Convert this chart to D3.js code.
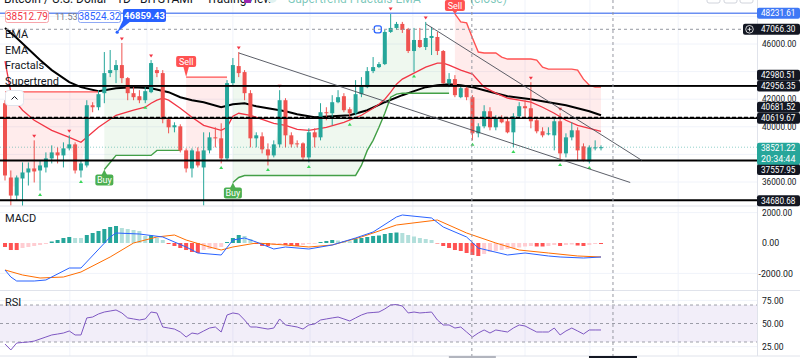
<!DOCTYPE html>
<html>
<head>
<meta charset="utf-8">
<script src="https://cdnjs.cloudflare.com/ajax/libs/d3/7.8.5/d3.min.js"></script>
<style>
body { margin: 0; background: #fff; }
svg { display: block; font-family: Roboto, "Liberation Sans", sans-serif; }
</style>
</head>
<body>
<svg id="chart" width="800" height="358"></svg>
<script>
/*********************
	Data
**********************/
// daily candles [open, high, low, close]
var candles = [
	[41709,41927,36109,36473],[36327,36836,34291,35018],[35018,36473,34655,36327],[36255,37418,34150,36691],[36691,37418,35745,36982],
	[36982,39018,35964,36764],[36836,37564,35382,37200],[37055,38145,36691,37709],[37709,38655,37345,38145],[38145,38509,37345,37927],
	[37927,38873,37055,38436],[38436,39382,38291,38727],[38727,38873,36618,36836],[36836,37564,36327,37345],[37200,41927,37055,41564],
	[41564,41782,41055,41418],[41418,42655,41200,42364],[42436,45418,41709,43891],[43891,45564,43600,44109],[44109,44836,43164,44473],
	[44473,46073,43164,43527],[43527,43600,41927,42436],[42436,42873,41927,42145],[42218,42655,41709,41927],[41927,42873,41709,42582],
	[42509,44836,42436,44618],[44109,44327,43600,43891],[43891,44109,40255,40545],[40545,40691,39527,39964],[39964,40327,39600,40109],
	[40036,40182,38145,38291],[38291,38436,36691,36982],[36982,38436,36327,38291],[38218,38509,37055,37200],[37055,39600,34291,38291],
	[38291,39600,38073,39236],[39236,39964,38509,39164],[39164,40255,37345,37709],[37709,43382,37564,43164],[43164,44982,43018,44473],
	[44400,45418,43600,43891],[43964,44109,41927,42436],[42436,42655,38509,39164],[39164,39600,38509,39382],[39309,39600,38073,38364],
	[38364,38800,37200,37927],[37927,39018,37782,38727],[38727,42655,38509,41927],[41927,42073,38509,39382],[39382,39600,38509,38727],
	[38800,39018,38509,38727],[38800,38873,37564,37782],[37782,39891,37418,39600],[39600,39891,38509,39236],[39236,41709,39018,41055],
	[41055,41418,40473,40982],[40982,42291,40109,41782],[41782,42655,41709,42145],[42218,42436,41055,41200],[41273,41418,40473,40982],
	[40982,43382,40836,42364],[42364,43600,42145,42945],[42873,44327,42800,44036],[44036,45055,43891,44327],[44327,44691,44255,44545],
	[44545,47018,44473,46873],[46873,48255,46800,47164],[47164,47600,47018,47455],[47455,47600,46800,47018],[47091,47164,45345,45491],
	[45491,47164,43964,46291],[46291,47164,45709,45782],[45782,47600,45564,46436],[46436,47236,45200,46582],[46509,46873,45200,45491],
	[45491,45564,43100,43164],[43164,43891,42873,43455],[43455,43745,42145,42291],[42145,43018,42073,42800],[42800,43018,41927,42145],
	[42145,42291,39018,39527],[39527,40255,39236,40036],[40036,41564,39891,41127],[41127,41418,39745,39964],[39964,40836,39745,40618],
	[40618,40836,40255,40327],[40400,40618,39527,39600],[39600,40982,38509,40764],[40764,41782,40691,41491],[41491,41927,40691,41345],
	[41345,43236,39891,40400],[40473,40691,39527,39673],[39673,39964,39236,39382],[39455,39964,39382,39527],[39382,40618,38291,40400],
	[40400,40982,37564,38073],[38073,39527,37782,39236],[39236,40327,39018,39745],[39745,39964,37564,38291],[38582,38800,37491,37564],
	[37491,38655,37345,38509],[38436,39018,38291,38509],[38509,38655,38291,38521]
];

// EMA lines, read as [bar, price]
var emaFast = [[0,44764],[1,42509],[2,41709],[3,41200],[5,40473],[8,39745],[11,39236],[13,38873],[14,39236],[16,39964],
	[19,40836],[22,41200],[24,41418],[25,41709],[26,41927],[27,42073],[28,41927],[30,41345],[32,40691],[34,40109],
	[37,39745],[38,39964],[39,40764],[40,40982],[42,40836],[44,40545],[46,40255],[48,40109],[50,39818],[52,39745],
	[55,39964],[58,40327],[61,40836],[63,41345],[64,41636],[65,42000],[66,42509],[67,43091],[68,43455],[70,43891],
	[72,44327],[74,44618],[75,44618],[76,44473],[78,44109],[80,43818],[82,42873],[84,42436],[86,42073],[88,41927],
	[90,41782],[92,41418],[94,40982],[96,40473],[98,40109],[100,39891],[102,39673]];
var emaSlow = [[0,47164],[2,46436],[4,45636],[6,44836],[8,44109],[11,43236],[13,42873],[16,42582],[19,42800],[22,42873],
	[25,42800],[28,42509],[30,42145],[32,41927],[34,41782],[37,41418],[39,41636],[41,41709],[43,41491],[45,41345],
	[48,41127],[50,40909],[53,40691],[56,40764],[59,40836],[62,41200],[65,41782],[68,42291],[70,42582],[72,42873],
	[74,43018],[76,43091],[78,43018],[80,42873],[82,42655],[84,42436],[86,42218],[88,42109],[90,42000],[92,41855],
	[94,41709],[96,41564],[98,41345],[100,41127],[102,40836]];

// supertrend value per bar, trend flips at these bars (starts bearish)
var supertrend = [
	42530,42530,42530,42530,42530,42530,42530,42530,42530,42530,42530,42530,42530,42530,42530,42530,42530,
	36909,37418,37927,37927,37927,37927,37927,37927,37927,38291,38291,38291,38291,38291,
	43600,43600,43600,43600,43600,43600,43600,43600,
	35964,36327,36473,36473,36473,36473,36473,36473,36473,36473,36473,36473,36473,36473,36473,36473,36473,36473,36473,36473,36473,36473,
	37200,38291,39018,39964,40982,42145,42364,42436,42436,42436,42436,42436,42436,42436,42436,42436,
	48182,47600,47527,46436,45418,45345,45345,45345,45055,44909,44909,44909,44909,44909,44836,44327,
	44182,44182,44182,44182,44182,44109,43455,43018,42873,42873
];
var trendFlips = [17, 31, 39, 77];

var fractalUp = [5, 11, 20, 25, 40, 47, 66, 72, 90, 95];
var fractalDown = [6, 13, 24, 37, 45, 52, 59, 70, 80, 87, 95, 100];

// trend lines [bar1, price1, bar2, price2]
var trendLines = [[40.05, 45345, 107, 35964], [72.05, 47455, 109, 37564]];

var levelPrices = [48231.61, 42980.51, 42956.35, 40681.52, 40619.67, 37557.95, 34680.68];
var priceTicks = [46000, 42000, 40000, 36000];
var gridPrices = [36000, 38000, 40000, 42000, 44000, 46000, 48000];

var macdLine = [[0,-1776],[1,-2237],[2,-2500],[5,-2500],[7,-2434],[11,-1645],[13,-1645],[18,395],[19,658],[23,592],
	[27,395],[31,-263],[33,-658],[37,-790],[39,197],[41,329],[43,66],[46,-395],[48,-263],[52,-395],
	[56,-132],[60,329],[63,724],[67,1711],[68,1842],[73,1645],[75,1053],[79,395],[81,-329],[86,-790],
	[89,-658],[93,-855],[95,-921],[99,-987],[102,-921]];
var signalLine = [[0,-1776],[3,-2105],[6,-2303],[10,-2237],[13,-1908],[18,-921],[22,0],[26,395],[29,526],[31,197],
	[35,-263],[37,-461],[39,-263],[43,0],[48,-132],[52,-263],[56,-132],[61,395],[67,1184],[74,1513],
	[79,658],[84,0],[88,-461],[93,-658],[98,-855],[102,-921]];
var macdHist = [-263,-461,-461,-329,-263,-197,-132,-66,99,197,329,395,329,329,526,658,790,921,1053,1118,
	987,921,855,790,461,500,329,197,-66,-197,-329,-461,-592,-658,-461,-395,-329,-263,66,329,
	526,461,263,-66,-197,-197,-132,-66,-132,-197,-197,-132,-66,-50,66,132,197,165,132,120,
	263,329,395,461,493,592,658,690,658,526,428,329,263,197,-33,-197,-329,-461,-526,-658,
	-790,-855,-724,-592,-526,-461,-395,-329,-296,-230,-197,-230,-230,-197,-132,-197,-132,-99,-165,-197,
	-132,-66,-66];
var macdTicks = [2000, 0, -2000];

var rsiValues = [27.8,21.4,28.9,29.5,30,31,33.2,35.4,37.6,38.6,39.7,41.9,37.6,37.6,56,57,60.3,62.4,63.5,64.6,
	61.4,56,54.9,53.8,54.9,62.4,61.4,46.2,45.1,44,40.8,35.4,39.7,38.6,41.9,45.1,46.2,40.8,59.2,61.4,
	60.3,53.8,46.2,46.2,45.1,44,45.1,54.9,48.4,47.3,46.2,44,48.4,49.5,53.8,54.9,56,57,54.9,52.7,
	56,59.2,61.4,61.9,62.4,65.7,70,70.5,68.9,61.4,62.4,61.4,61.9,62.4,53.8,48.4,48.4,45.1,46.2,40.8,
	35.4,39.7,43,39.7,43,41.9,40.8,45.1,48.4,47.3,44,40.8,40.8,40.8,45.1,37.6,41.9,45.1,41.9,38.6,
	43,43,43];
var rsiTicks = [75, 50, 25];
var rsiBands = [70, 50, 30];

// month grid and markers, in bar units
var timeGrid = [11.1, 24.3, 39, 52.2, 69.8, 89, 100.1, 115.2];
var markBar = 79.9;
var crossBar = 104.05;
var crossPrice = 47066.30;
var lastPrice = 38521.22;
var countdown = "20:34:44";
var legendValues = ["38512.79", "11.53", "38524.32"];
var calloutPrice = 46859.43;
var calloutBar = 19.2;
var alertBar = 63.8;


/*********************
	Scales
**********************/
var PANE_RIGHT = 757;
var x = d3.scaleLinear().domain([0, 102]).range([5, 601]);
var yPrice = d3.scaleLinear().domain([36000, 46000]).range([182, 44]);
var yMacd = d3.scaleLinear().domain([-2000, 2000]).range([273.4, 212.6]);
var yRsi = d3.scaleLinear().domain([30, 70]).range([342, 305]);

var svg = d3.select("#chart");
var GREEN = "#26a69a", RED = "#ef5350";
var fmt = d3.format(".2f");


/*********************
	Helpers
**********************/
function trendDir(i){
	var d = -1;
	trendFlips.forEach(function(f){ if (i >= f) d = -d; });
	return d;
}

// axis text squeezed to the narrow price scale
function axisText(g, x0, yc, str, color){
	return g.append("text").attr("x", x0).attr("y", yc).attr("dy", "0.35em")
		.attr("font-size", 9).attr("fill", color || "#131722")
		.attr("textLength", str.length * 4.3).attr("lengthAdjust", "spacingAndGlyphs")
		.text(str);
}

function addBox(g, yc, fill, label){
	g.append("rect").attr("x", PANE_RIGHT).attr("y", yc - 5.5).attr("width", 43).attr("height", 11)
		.attr("rx", 2).attr("fill", fill);
	axisText(g, 761, yc, label, "#fff");
}


/*********************
	Drawing
**********************/
function drawGrid(){
	var g = svg.append("g");
	g.append("rect").attr("width", 800).attr("height", 358).attr("fill", "#fff");

	g.selectAll(".vgrid").data(timeGrid).enter().append("line")
		.attr("x1", function(d){ return x(d); }).attr("x2", function(d){ return x(d); })
		.attr("y1", 0).attr("y2", 356).attr("stroke", "#f0f3fa").attr("stroke-width", 1);

	g.selectAll(".hgrid").data(gridPrices).enter().append("line")
		.attr("x1", 0).attr("x2", PANE_RIGHT)
		.attr("y1", function(d){ return yPrice(d); }).attr("y2", function(d){ return yPrice(d); })
		.attr("stroke", "#f0f3fa");

	[2000, -2000].forEach(function(v){
		g.append("line").attr("x1", 0).attr("x2", PANE_RIGHT).attr("y1", yMacd(v)).attr("y2", yMacd(v)).attr("stroke", "#f0f3fa");
	});
	[75, 25].forEach(function(v){
		g.append("line").attr("x1", 0).attr("x2", PANE_RIGHT).attr("y1", yRsi(v)).attr("y2", yRsi(v)).attr("stroke", "#f0f3fa");
	});

	// pane separators
	[206, 290.5, 356].forEach(function(yy){
		g.append("line").attr("x1", 0).attr("x2", 800).attr("y1", yy).attr("y2", yy).attr("stroke", "#e0e3eb");
	});
	g.append("line").attr("x1", PANE_RIGHT + 0.5).attr("x2", PANE_RIGHT + 0.5).attr("y1", 0).attr("y2", 356).attr("stroke", "#e0e3eb");
}

function drawMainPane(){
	var defs = svg.append("defs");
	defs.append("clipPath").attr("id", "clip-main").append("rect")
		.attr("x", 0).attr("y", 0).attr("width", PANE_RIGHT).attr("height", 205.5);
	var g = svg.append("g").attr("clip-path", "url(#clip-main)");

	// supertrend segments
	var segs = [], cur = null;
	for (var i = 0; i < supertrend.length; i++){
		var d = trendDir(i);
		if (!cur || cur.dir != d){ cur = {dir: d, idx: []}; segs.push(cur); }
		cur.idx.push(i);
	}
	var area = d3.area()
		.x(function(i){ return x(i); })
		.y0(function(i){ return yPrice((candles[i][0] + candles[i][3]) / 2); })
		.y1(function(i){ return yPrice(supertrend[i]); });
	var stLine = d3.line().x(function(i){ return x(i); }).y(function(i){ return yPrice(supertrend[i]); });

	segs.forEach(function(s){
		g.append("path").attr("d", area(s.idx))
			.attr("fill", s.dir > 0 ? "rgba(76,175,80,0.09)" : "rgba(255,82,82,0.11)");
	});

	// EMAs
	var emaPath = d3.line().x(function(d){ return x(d[0]); }).y(function(d){ return yPrice(d[1]); });
	g.append("path").attr("d", emaPath(emaSlow)).attr("fill", "none").attr("stroke", "#000").attr("stroke-width", 2);
	g.append("path").attr("d", emaPath(emaFast)).attr("fill", "none").attr("stroke", "#f23645").attr("stroke-width", 1.3);

	segs.forEach(function(s){
		g.append("path").attr("d", stLine(s.idx)).attr("fill", "none")
			.attr("stroke", s.dir > 0 ? "#43a047" : "#ff5252").attr("stroke-width", 1.4);
	});

	// candles
	g.selectAll(".wick").data(candles).enter().append("line")
		.attr("x1", function(d, i){ return x(i); }).attr("x2", function(d, i){ return x(i); })
		.attr("y1", function(d){ return yPrice(d[1]); }).attr("y2", function(d){ return yPrice(d[2]); })
		.attr("stroke", function(d){ return d[3] >= d[0] ? GREEN : RED; }).attr("stroke-width", 1);
	g.selectAll(".body").data(candles).enter().append("rect")
		.attr("x", function(d, i){ return x(i) - 2; })
		.attr("y", function(d){ return yPrice(Math.max(d[0], d[3])); })
		.attr("width", 4)
		.attr("height", function(d){ return Math.max(1, Math.abs(yPrice(d[0]) - yPrice(d[3]))); })
		.attr("fill", function(d){ return d[3] >= d[0] ? GREEN : RED; });

	// fractals
	g.selectAll(".fup").data(fractalUp).enter().append("path")
		.attr("d", function(i){ var cx = x(i), cy = yPrice(candles[i][1]) - 4; return "M" + (cx - 2) + "," + (cy - 1.5) + "L" + (cx + 2) + "," + (cy - 1.5) + "L" + cx + "," + (cy + 1.5) + "Z"; })
		.attr("fill", "#f23645");
	g.selectAll(".fdn").data(fractalDown).enter().append("path")
		.attr("d", function(i){ var cx = x(i), cy = yPrice(candles[i][2]) + 4; return "M" + (cx - 2) + "," + (cy + 1.5) + "L" + (cx + 2) + "," + (cy + 1.5) + "L" + cx + "," + (cy - 1.5) + "Z"; })
		.attr("fill", "#3ad65a");

	// horizontal levels
	var levelColors = ["#6b8ff2", "#000", "#000", "#000", "#000", "#000", "#000"];
	var levelDash = [null, null, null, "4,2", null, null, null];
	var levelWidth = [1.5, 1.5, 1.5, 1.5, 1.5, 2, 2];
	levelPrices.forEach(function(p, k){
		g.append("line").attr("x1", 0).attr("x2", PANE_RIGHT)
			.attr("y1", yPrice(p)).attr("y2", yPrice(p))
			.attr("stroke", levelColors[k]).attr("stroke-width", levelWidth[k])
			.attr("stroke-dasharray", levelDash[k]);
	});

	// trend lines
	trendLines.forEach(function(t){
		g.append("line").attr("x1", x(t[0])).attr("y1", yPrice(t[1])).attr("x2", x(t[2])).attr("y2", yPrice(t[3]))
			.attr("stroke", "#4a4d57").attr("stroke-width", 0.9);
	});

	// last price line
	g.append("line").attr("x1", 0).attr("x2", PANE_RIGHT).attr("y1", yPrice(lastPrice)).attr("y2", yPrice(lastPrice))
		.attr("stroke", GREEN).attr("stroke-opacity", 0.5).attr("stroke-dasharray", "1,2");

	// buy / sell labels
	trendFlips.forEach(function(i){
		var cx = x(i), cy = yPrice(supertrend[i]);
		var lg = g.append("g");
		if (trendDir(i) > 0){
			lg.append("path").attr("d", "M" + cx + "," + cy + "L" + (cx - 3) + "," + (cy + 6) + "L" + (cx + 3) + "," + (cy + 6) + "Z").attr("fill", "#4caf50");
			lg.append("rect").attr("x", cx - 9).attr("y", cy + 5).attr("width", 18).attr("height", 11).attr("rx", 2).attr("fill", "#4caf50");
			lg.append("text").attr("x", cx).attr("y", cy + 10.5).attr("dy", "0.35em").attr("text-anchor", "middle")
				.attr("font-size", 9).attr("fill", "#fff").text("Buy");
		} else {
			var top = Math.max(0, cy - 21);
			lg.append("path").attr("d", "M" + cx + "," + cy + "L" + (cx - 3) + "," + (top + 10) + "L" + (cx + 3) + "," + (top + 10) + "Z").attr("fill", "#ff5252");
			lg.append("rect").attr("x", cx - 10).attr("y", top).attr("width", 20).attr("height", 11).attr("rx", 2).attr("fill", "#ff5252");
			lg.append("text").attr("x", cx).attr("y", top + 5.5).attr("dy", "0.35em").attr("text-anchor", "middle")
				.attr("font-size", 9).attr("fill", "#fff").text("Sell");
		}
	});

	// small alert marker
	g.append("rect").attr("x", x(alertBar) - 3.5).attr("y", yPrice(crossPrice) - 3.5).attr("width", 7).attr("height", 7)
		.attr("rx", 2).attr("fill", "none").attr("stroke", "#2962ff").attr("stroke-width", 1.3);
}

function drawMacdPane(){
	svg.append("defs").append("clipPath").attr("id", "clip-macd").append("rect")
		.attr("x", 0).attr("y", 206.5).attr("width", PANE_RIGHT).attr("height", 83.5);
	var g = svg.append("g").attr("clip-path", "url(#clip-macd)");

	function histColor(i){
		var v = macdHist[i], p = i > 0 ? macdHist[i - 1] : v;
		if (v >= 0) return p < v ? "#26a69a" : "#b2dfdb";
		return p < v ? "#ffcdd2" : "#ff5252";
	}
	g.selectAll(".hist").data(macdHist).enter().append("rect")
		.attr("x", function(d, i){ return x(i) - 2; })
		.attr("y", function(d){ return Math.min(yMacd(0), yMacd(d)); })
		.attr("width", 4)
		.attr("height", function(d){ return Math.abs(yMacd(d) - yMacd(0)); })
		.attr("fill", function(d, i){ return histColor(i); });

	var ln = d3.line().x(function(d){ return x(d[0]); }).y(function(d){ return yMacd(d[1]); });
	g.append("path").attr("d", ln(signalLine)).attr("fill", "none").attr("stroke", "#ff6d00").attr("stroke-width", 1);
	g.append("path").attr("d", ln(macdLine)).attr("fill", "none").attr("stroke", "#2962ff").attr("stroke-width", 1);

	svg.append("text").attr("x", 5).attr("y", 218).attr("dy", "0.35em").attr("font-size", 11).attr("fill", "#131722").text("MACD");

	var ag = svg.append("g");
	macdTicks.forEach(function(v){
		axisText(ag, v < 0 ? 758.5 : 762, yMacd(v), fmt(v).replace("−", "-"));
	});
}

function drawRsiPane(){
	svg.append("defs").append("clipPath").attr("id", "clip-rsi").append("rect")
		.attr("x", 0).attr("y", 291).attr("width", PANE_RIGHT).attr("height", 65);
	var g = svg.append("g").attr("clip-path", "url(#clip-rsi)");

	g.append("rect").attr("x", 0).attr("width", PANE_RIGHT).attr("y", yRsi(70)).attr("height", yRsi(30) - yRsi(70))
		.attr("fill", "rgba(126,87,194,0.1)");
	rsiBands.forEach(function(v){
		g.append("line").attr("x1", 0).attr("x2", PANE_RIGHT).attr("y1", yRsi(v)).attr("y2", yRsi(v))
			.attr("stroke", "#787b86").attr("stroke-opacity", 0.7).attr("stroke-dasharray", "3,3");
	});
	var ln = d3.line().x(function(d, i){ return x(i); }).y(function(d){ return yRsi(d); });
	g.append("path").attr("d", ln(rsiValues)).attr("fill", "none").attr("stroke", "#7e57c2").attr("stroke-width", 1);

	svg.append("text").attr("x", 5).attr("y", 302).attr("dy", "0.35em").attr("font-size", 11).attr("fill", "#131722").text("RSI");
	var ag = svg.append("g");
	rsiTicks.forEach(function(v){ axisText(ag, 762, yRsi(v), fmt(v)); });
}

function drawOverlays(){
	var g = svg.append("g");
	// crosshair + marked bar
	[markBar, crossBar].forEach(function(b){
		g.append("line").attr("x1", x(b)).attr("x2", x(b)).attr("y1", 0).attr("y2", 356)
			.attr("stroke", "#9598a1").attr("stroke-dasharray", "3,3");
	});
	g.append("line").attr("x1", 0).attr("x2", PANE_RIGHT).attr("y1", yPrice(crossPrice)).attr("y2", yPrice(crossPrice))
		.attr("stroke", "#9598a1").attr("stroke-dasharray", "3,3");

	// time axis label tops
	g.append("rect").attr("x", x(markBar) - 23).attr("y", 356).attr("width", 47).attr("height", 4).attr("fill", "#b2b5be");
	g.append("rect").attr("x", x(crossBar) - 24).attr("y", 356).attr("width", 48).attr("height", 4).attr("fill", "#131722");
}

function drawPriceAxis(){
	var g = svg.append("g");
	priceTicks.forEach(function(p){ axisText(g, 762, yPrice(p), fmt(p)); });

	// level labels, nudged apart where they overlap
	var nudge = [0, -10.5, 0, -10.2, 0, 9, 0.5];
	levelPrices.forEach(function(p, k){
		addBox(g, yPrice(p) + nudge[k], k == 0 ? "#3f78f5" : "#131722", fmt(p));
	});

	// last price + countdown
	var ly = yPrice(lastPrice) + 1;
	g.append("rect").attr("x", PANE_RIGHT).attr("y", ly - 5.5).attr("width", 43).attr("height", 22).attr("rx", 2).attr("fill", GREEN);
	axisText(g, 761, ly, fmt(lastPrice), "#fff");
	axisText(g, 761, ly + 11, countdown, "#fff");

	// crosshair price
	var cy = yPrice(crossPrice);
	g.append("rect").attr("x", 743).attr("y", cy - 5.5).attr("width", 57).attr("height", 11).attr("rx", 2).attr("fill", "#131722");
	g.append("circle").attr("cx", 749.5).attr("cy", cy).attr("r", 3.8).attr("fill", "none").attr("stroke", "#fff").attr("stroke-width", 0.8);
	g.append("path").attr("d", "M747.5," + cy + "H751.5M749.5," + (cy - 2) + "V" + (cy + 2)).attr("stroke", "#fff").attr("stroke-width", 0.8);
	axisText(g, 761, cy, fmt(crossPrice), "#fff");
}

function drawLegend(){
	var g = svg.append("g");
	// cut-off title row
	g.append("text").attr("x", 4).attr("y", 2.5).attr("font-size", 12).attr("fill", "#131722")
		.text("Bitcoin / U.S. Dollar · 1D · BITSTAMP · TradingView");
	g.append("rect").attr("x", 244).attr("y", -5).attr("width", 7).attr("height", 8).attr("rx", 1).attr("fill", "#9c27b0");
	g.append("circle").attr("cx", 272).attr("cy", -2).attr("r", 5).attr("fill", "#e0f2f1");
	g.append("text").attr("x", 288).attr("y", 2.5).attr("font-size", 12).attr("fill", "#089981").attr("fill-opacity", 0.55)
		.text("Supertrend Fractals EMA");
	g.append("text").attr("x", 470).attr("y", 2.5).attr("font-size", 12).attr("fill", "#089981").attr("fill-opacity", 0.55)
		.text("(close)");
	[707, 724, 740].forEach(function(bx){
		g.append("rect").attr("x", bx).attr("y", -8).attr("width", 13).attr("height", 11).attr("rx", 2)
			.attr("fill", "#fff").attr("stroke", "#d1d4dc");
	});

	// value boxes
	g.append("rect").attr("x", 5.5).attr("y", 10.5).attr("width", 43).attr("height", 12).attr("rx", 2).attr("fill", "#fff").attr("stroke", "#f7a5ab");
	g.append("text").attr("x", 27).attr("y", 16.5).attr("dy", "0.35em").attr("text-anchor", "middle").attr("font-size", 10).attr("fill", "#f23645").text(legendValues[0]);
	g.append("text").attr("x", 55).attr("y", 16.5).attr("dy", "0.35em").attr("font-size", 9).attr("fill", "#787b86").text(legendValues[1]);
	g.append("rect").attr("x", 78.5).attr("y", 10.5).attr("width", 42).attr("height", 12).attr("rx", 2).attr("fill", "#fff").attr("stroke", "#8fa9f5");
	g.append("text").attr("x", 99.5).attr("y", 16.5).attr("dy", "0.35em").attr("text-anchor", "middle").attr("font-size", 10).attr("fill", "#2962ff").text(legendValues[2]);

	// blue price callout with tail to the point
	var px = x(calloutBar), py = yPrice(calloutPrice);
	g.append("path").attr("d", "M124,18L131,21L" + px + "," + py + "Z").attr("fill", "#2962ff");
	g.append("rect").attr("x", 123).attr("y", 9).attr("width", 43).attr("height", 13).attr("rx", 2).attr("fill", "#2962ff");
	g.append("text").attr("x", 144.5).attr("y", 15.5).attr("dy", "0.35em").attr("text-anchor", "middle").attr("font-size", 9.5)
		.attr("font-weight", "bold").attr("fill", "#fff").text(fmt(calloutPrice));
	g.append("circle").attr("cx", px).attr("cy", py).attr("r", 1.6).attr("fill", "#2962ff");

	// indicator names
	var names = ["EMA", "EMA", "Fractals", "Supertrend"];
	g.selectAll(".iname").data(names).enter().append("text")
		.attr("x", 5).attr("y", function(d, i){ return 34 + i * 15.7; }).attr("dy", "0.35em")
		.attr("font-size", 11).attr("fill", "#131722").text(function(d){ return d; });

	// collapse button
	g.append("rect").attr("x", 5.5).attr("y", 90.5).attr("width", 18).attr("height", 15).attr("rx", 3).attr("fill", "#fff").attr("stroke", "#e0e3eb");
	g.append("path").attr("d", "M11.5,99.5L14.5,96.5L17.5,99.5").attr("fill", "none").attr("stroke", "#131722").attr("stroke-width", 1);
}


/*********************
	Initialization
**********************/
function init(){
	drawGrid();
	drawMainPane();
	drawMacdPane();
	drawRsiPane();
	drawOverlays();
	drawPriceAxis();
	drawLegend();
}

init();
</script>
</body>
</html>
